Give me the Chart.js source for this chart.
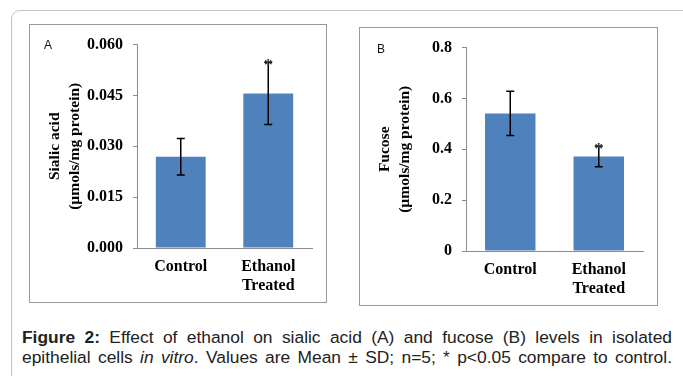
<!DOCTYPE html>
<html>
<head>
<meta charset="utf-8">
<script src="https://cdn.jsdelivr.net/npm/chart.js@4"></script>
<style>
  html, body { margin: 0; padding: 0; background: #fff; }
  body { width: 683px; height: 376px; position: relative; overflow: hidden; }
  .frame { position: absolute; left: 11px; top: 10px; width: 720px; height: 420px;
           border: 1px solid #c4c4c4; border-radius: 9px; }
  .box { position: absolute; border: 1px solid #9a9a9a; background: #fff; }
  .box .wrap { position: relative; width: 100%; height: 100%; }
  .tag { position: absolute; font-family: "Liberation Sans", Arial, sans-serif; font-size: 12px; color: #111; }
  .caption { position: absolute; left: 22px; top: 327px; width: 650px;
             font-family: "Liberation Sans", Arial, sans-serif; font-size: 17.4px; color: #222; line-height: 20px; }
  .caption div { text-align: justify; text-align-last: justify; white-space: nowrap; }
</style>
</head>
<body>
<div class="frame"></div>

<div class="box" style="left:29px; top:24px; width:296px; height:277px;">
  <div class="wrap"><canvas id="chartA"></canvas></div>
</div>
<div class="box" style="left:359px; top:27px; width:297px; height:277px;">
  <div class="wrap"><canvas id="chartB"></canvas></div>
</div>
<div class="tag" style="left:44px; top:38px;">A</div>
<div class="tag" style="left:377px; top:42px;">B</div>

<div class="caption">
  <div><b>Figure 2:</b> Effect of ethanol on sialic acid (A) and fucose (B) levels in isolated</div>
  <div>epithelial cells <i>in vitro</i>. Values are Mean ± SD; n=5; * p&lt;0.05 compare to control.</div>
</div>

<script>
// data
let groups = [["Control"], ["Ethanol", "Treated"]];

let sialicMean = [0.0269, 0.0456];
let sialicSD = [0.0054, 0.0092];
let sialicSig = [false, true];
let sialicTicks = [0, 0.015, 0.030, 0.045, 0.060];

let fucoseMean = [0.541, 0.372];
let fucoseSD = [0.087, 0.041];
let fucoseSig = [false, true];
let fucoseTicks = [0, 0.2, 0.4, 0.6, 0.8];

let barColor = "#4F81BD";
let axisColor = "#8c8c8c";
let serif = "'Liberation Serif', 'Times New Roman', serif";

// error bars + asterisk
let errorBars = {
    id: "errorBars",
    afterDatasetsDraw(chart, args, opts) {
        let ctx = chart.ctx;
        let meta = chart.getDatasetMeta(0);
        let y = chart.scales.y;
        ctx.save();
        ctx.strokeStyle = "#000";
        ctx.lineWidth = 1.5;
        for (let i = 0; i < opts.mean.length; i++) {
            let x = meta.data[i].x;
            let top = y.getPixelForValue(opts.mean[i] + opts.sd[i]);
            let bot = y.getPixelForValue(opts.mean[i] - opts.sd[i]);
            ctx.beginPath();
            ctx.moveTo(x, top); ctx.lineTo(x, bot);
            ctx.moveTo(x - 4, top); ctx.lineTo(x + 4, top);
            ctx.moveTo(x - 4, bot); ctx.lineTo(x + 4, bot);
            ctx.stroke();
            if (opts.sig[i]) {
                ctx.fillStyle = "#333";
                ctx.font = "bold 17px " + serif;
                ctx.textAlign = "center";
                ctx.textBaseline = "alphabetic";
                ctx.fillText("*", x, top + 8);
            }
        }
        ctx.restore();
    }
};

let makeChart = (id, mean, sd, sig, ticks, title, fmt, yWidth, padRight, xHeight) => {
    let ctx = document.getElementById(id).getContext("2d");
    return new Chart(ctx, {
        type: "bar",
        data: {
            labels: groups,
            datasets: [{
                data: mean,
                backgroundColor: barColor,
                borderWidth: 0,
                categoryPercentage: 1,
                barPercentage: 0.57
            }]
        },
        options: {
            responsive: true,
            maintainAspectRatio: false,
            animation: false,
            events: [],
            layout: { padding: { top: 16, right: padRight, left: 0, bottom: 0 } },
            plugins: {
                legend: { display: false },
                tooltip: { enabled: false },
                errorBars: { mean: mean, sd: sd, sig: sig }
            },
            scales: {
                x: {
                    grid: { display: false, drawTicks: false },
                    border: { display: true, color: axisColor, width: 1 },
                    ticks: { color: "#000", padding: 10, font: { family: serif, size: 16, weight: "bold", lineHeight: 1.15 } },
                    afterFit: (s) => { s.height = xHeight; }
                },
                y: {
                    min: ticks[0],
                    max: ticks[ticks.length - 1],
                    afterBuildTicks: (s) => { s.ticks = ticks.map(v => ({ value: v })); },
                    grid: { drawOnChartArea: false, drawTicks: true, tickLength: 4, color: axisColor },
                    border: { display: true, color: axisColor, width: 1 },
                    ticks: { color: "#000", padding: 10, callback: fmt,
                             font: { family: serif, size: 16, weight: "bold" } },
                    title: { display: true, text: title, color: "#000", padding: { top: 15, bottom: 0 },
                             font: { family: serif, size: 15.5, weight: "bold", lineHeight: 1.3 } },
                    afterFit: (s) => { s.width = yWidth; }
                }
            }
        },
        plugins: [errorBars]
    });
};

makeChart("chartA", sialicMean, sialicSD, sialicSig, sialicTicks,
    ["Sialic acid", "(µmols/mg protein)"], (v) => v.toFixed(3), 107, 14, 54);
makeChart("chartB", fucoseMean, fucoseSD, fucoseSig, fucoseTicks,
    ["Fucose", "(µmols/mg protein)"], (v) => v === 0 ? "0" : v.toFixed(1), 106, 14, 54);
</script>
</body>
</html>
